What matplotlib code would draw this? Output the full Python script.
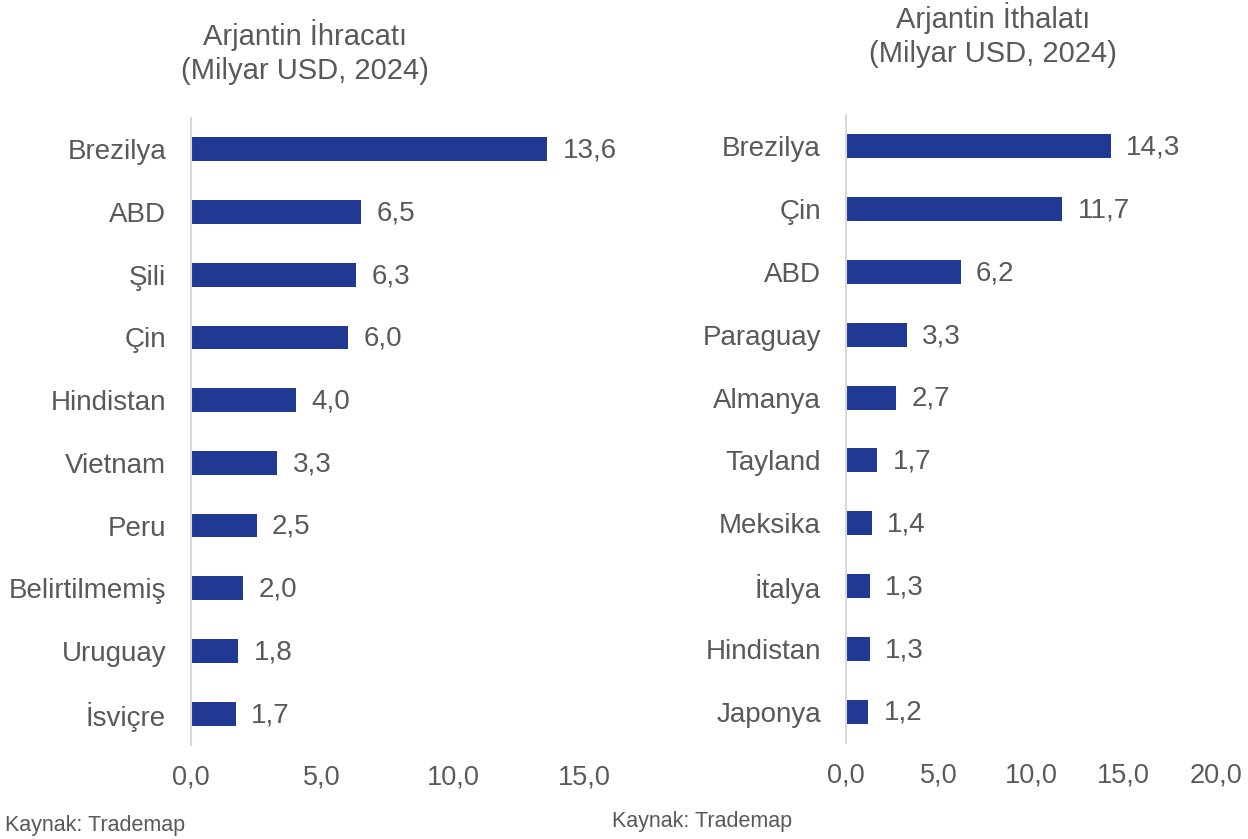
import matplotlib
matplotlib.use("Agg")
import matplotlib.pyplot as plt

plt.rcParams["font.family"] = ["Liberation Sans", "DejaVu Sans"]

# Data
export_countries = ["Brezilya", "ABD", "Şili", "Çin", "Hindistan", "Vietnam",
                    "Peru", "Belirtilmemiş", "Uruguay", "İsviçre"]
export_values = [13.6, 6.5, 6.3, 6.0, 4.0, 3.3, 2.5, 2.0, 1.8, 1.7]

import_countries = ["Brezilya", "Çin", "ABD", "Paraguay", "Almanya", "Tayland",
                    "Meksika", "İtalya", "Hindistan", "Japonya"]
import_values = [14.3, 11.7, 6.2, 3.3, 2.7, 1.7, 1.4, 1.3, 1.3, 1.2]

export_ticks = [0, 5, 10, 15]
import_ticks = [0, 5, 10, 15, 20]

BAR = "#203A93"
TEXT = "#595959"
AXIS = "#D9D9D9"
W, H = 1248, 839


def fmt(v):
    return f"{v:.1f}".replace(".", ",")


def box(x0, x1, top, bottom):
    return [x0 / W, (H - bottom) / H, (x1 - x0) / W, (bottom - top) / H]


def style(ax):
    for side in ("top", "right", "bottom"):
        ax.spines[side].set_visible(False)
    ax.spines["left"].set_color(AXIS)
    ax.spines["left"].set_linewidth(1.5)
    ax.tick_params(axis="y", length=0, pad=18, labelsize=20, labelcolor=TEXT)
    ax.tick_params(axis="x", length=0, pad=14, labelsize=19.5, labelcolor=TEXT)


def draw_bars(ax, names, values, ticks):
    pos = list(range(len(names)))
    ax.barh(pos, values, height=0.38, color=BAR)
    ax.set_yticks(pos, names)
    ax.set_ylim(len(names) - 0.5, -0.5)
    ax.set_xlim(ticks[0], ticks[-1])
    ax.set_xticks(ticks, [fmt(t) for t in ticks])
    for p, v in zip(pos, values):
        ax.annotate(fmt(v), (v, p), xytext=(11, -1), textcoords="offset points",
                    va="center", ha="left", fontsize=20, color=TEXT)
    style(ax)


fig = plt.figure(figsize=(W / 100, H / 100), dpi=100)

# left panel: exports
ax1 = fig.add_axes(box(191, 584, 118, 745))
draw_bars(ax1, export_countries, export_values, export_ticks)

# right panel: imports
ax2 = fig.add_axes(box(846, 1216, 115, 743))
draw_bars(ax2, import_countries, import_values, import_ticks)

fig.text(305 / W, 1 - 52 / H, "Arjantin İhracatı\n(Milyar USD, 2024)", ha="center",
         va="center", fontsize=21, color=TEXT, linespacing=1.25)
fig.text(993 / W, 1 - 35 / H, "Arjantin İthalatı\n(Milyar USD, 2024)", ha="center",
         va="center", fontsize=21, color=TEXT, linespacing=1.25)

fig.text(5 / W, 1 - 826 / H, "Kaynak: Trademap", ha="left", va="center",
         fontsize=15.5, color=TEXT)
fig.text(612 / W, 1 - 822 / H, "Kaynak: Trademap", ha="left", va="center",
         fontsize=15.5, color=TEXT)

fig.savefig("out.png", dpi=100)
